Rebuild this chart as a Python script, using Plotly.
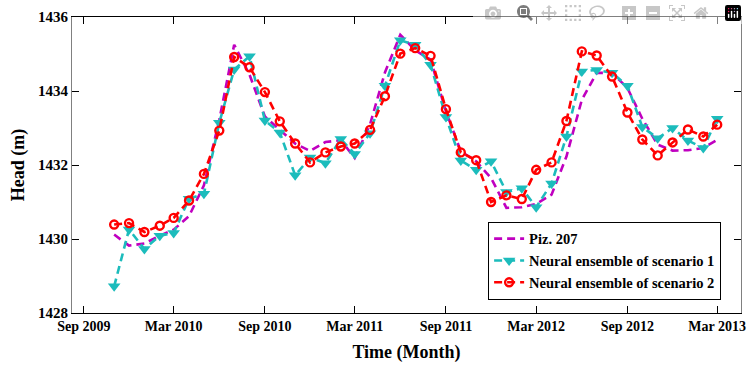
import plotly.graph_objects as go
import pandas as pd

months = pd.date_range("2009-11-01", "2013-03-01", freq="MS")

piz207 = [1430.12, 1429.82, 1429.88, 1430.09, 1430.25, 1430.62, 1431.45, 1433.22, 1435.25, 1434.44,
          1433.31, 1432.95, 1432.58, 1432.38, 1432.62, 1432.67, 1432.19, 1433.1, 1434.5, 1435.52,
          1435.1, 1434.85, 1433.45, 1432.37, 1432.1, 1431.65, 1430.84, 1430.86, 1430.95, 1431.2,
          1432.23, 1433.76, 1434.49, 1434.49, 1434.08, 1433.25, 1432.55, 1432.39, 1432.4, 1432.46,
          1432.68]
scen1 = [1428.72, 1430.26, 1429.73, 1430.09, 1430.16, 1431.09, 1431.22, 1433.14, 1434.58, 1434.94,
         1433.2, 1432.88, 1431.72, 1432.2, 1432.05, 1432.7, 1432.3, 1432.86, 1434.14, 1435.37,
         1435.25, 1434.71, 1433.3, 1432.12, 1431.87, 1432.1, 1431.27, 1431.37, 1430.86, 1431.5,
         1432.77, 1434.53, 1434.57, 1434.49, 1434.14, 1433.03, 1432.72, 1433.0, 1432.66, 1432.46,
         1433.25]
scen2 = [1430.39, 1430.43, 1430.19, 1430.36, 1430.57, 1431.04, 1431.76, 1432.93, 1434.92, 1434.64,
         1433.97, 1433.18, 1432.58, 1432.07, 1432.34, 1432.5, 1432.58, 1432.95, 1433.86, 1435.01,
         1435.16, 1434.95, 1433.51, 1432.34, 1432.13, 1431.0, 1431.18, 1431.08, 1431.87, 1432.07,
         1433.19, 1435.07, 1434.96, 1434.39, 1433.42, 1432.69, 1432.26, 1432.61, 1432.96, 1432.77,
         1433.09]

tick_vals = ["2009-09-01", "2010-03-01", "2010-09-01", "2011-03-01",
             "2011-09-01", "2012-03-01", "2012-09-01", "2013-03-01"]
tick_text = ["Sep 2009", "Mar 2010", "Sep 2010", "Mar 2011",
             "Sep 2011", "Mar 2012", "Sep 2012", "Mar 2013"]
y_ticks = [1428, 1430, 1432, 1434, 1436]

FF = "Liberation Serif, Times New Roman, serif"

fig = go.Figure()
fig.add_trace(go.Scatter(
    x=months, y=piz207, mode="lines", name="Piz. 207",
    line=dict(color="#C000C0", width=2.6, dash="8px,5px")))
fig.add_trace(go.Scatter(
    x=months, y=scen1, mode="lines+markers", name="Neural ensemble of scenario 1",
    line=dict(color="#1CBCBC", width=2.6, dash="8px,5px"),
    marker=dict(symbol="triangle-down", size=11, color="#1CBCBC")))
fig.add_trace(go.Scatter(
    x=months, y=scen2, mode="lines+markers", name="Neural ensemble of scenario 2",
    line=dict(color="#FF0000", width=2.6, dash="8px,5px"),
    marker=dict(symbol="circle-open", size=8, color="#FF0000", line=dict(width=2.4, color="#FF0000"))))

fig.update_layout(
    width=747, height=365,
    margin=dict(l=72, r=6, t=17, b=52),
    paper_bgcolor="white", plot_bgcolor="white",
    font=dict(family=FF, size=15, color="black", weight="bold"),
    showlegend=True,
    legend=dict(x=0.622, y=0.045, xanchor="left", yanchor="bottom",
                bgcolor="white", bordercolor="black", borderwidth=1,
                font=dict(family=FF, size=14.5, color="black", weight="bold"),
                tracegroupgap=0, itemwidth=30),
    xaxis=dict(
        range=["2009-08-08", "2013-04-18"], automargin=False,
        tickmode="array", tickvals=tick_vals, ticktext=tick_text,
        ticks="inside", ticklen=7, tickcolor="black", tickwidth=1,
        showline=True, linecolor="black", linewidth=1.2, mirror="ticks",
        showgrid=False, zeroline=False, ticklabeloverflow="allow",
        tickfont=dict(family=FF, size=14, color="black", weight="bold"),
        title=dict(text="Time (Month)", font=dict(family=FF, size=18, weight="bold"), standoff=12),
    ),
    yaxis=dict(
        range=[1428, 1436], automargin=False,
        tickmode="array", tickvals=y_ticks, ticktext=[str(v) for v in y_ticks],
        ticks="inside", ticklen=7, tickcolor="black", tickwidth=1,
        showline=True, linecolor="#808080", linewidth=1.2, mirror="ticks",
        showgrid=False, zeroline=False,
        tickfont=dict(family=FF, size=15, color="black", weight="bold"),
        title=dict(text="Head (m)", font=dict(family=FF, size=18, weight="bold"), standoff=8),
    ),
)

fig.write_html("out.html",
               post_script="document.body.style.margin='0';document.body.style.overflow='hidden';")
